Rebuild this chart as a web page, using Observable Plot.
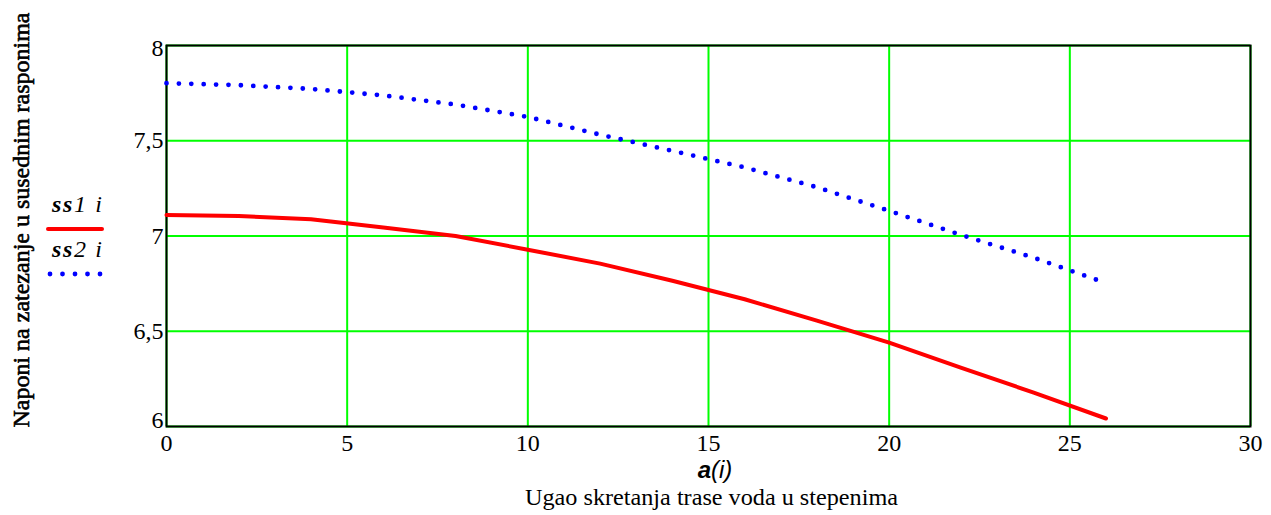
<!DOCTYPE html>
<html><head><meta charset="utf-8">
<script src="https://cdn.jsdelivr.net/npm/d3@7"></script>
<script src="https://cdn.jsdelivr.net/npm/@observablehq/plot@0.6"></script>
<style>
body{margin:0;background:#fff;}
#wrap{position:relative;width:1271px;height:515px;}
#chart,#overlay{position:absolute;left:0;top:0;}
#overlay{pointer-events:none;}
#chart text{font-family:"Liberation Serif","Times New Roman",serif;font-size:24px;}
#overlay text{font-family:"Liberation Serif","Times New Roman",serif;}
</style></head><body>
<div id="wrap"><div id="chart"></div>
<svg id="overlay" width="1271" height="515"></svg>
</div>
<script>
// angle a(i) in degrees
const angle = [0, 2, 4, 6, 8, 10, 12, 14, 16, 18, 20, 22, 24, 26];
// ss1 i  (red, solid)
const ss1 = [7.11, 7.105, 7.088, 7.045, 7.0, 6.928, 6.855, 6.765, 6.668, 6.556, 6.44, 6.308, 6.178, 6.042];
// ss2 i  (blue, dotted)
const ss2 = [7.802, 7.792, 7.772, 7.738, 7.69, 7.625, 7.532, 7.447, 7.36, 7.256, 7.132, 7.005, 6.886, 6.753];
const xTicks = [0, 5, 10, 15, 20, 25, 30];
const yTicks = [6, 6.5, 7, 7.5, 8];
const yTickLabels = ["6", "6,5", "7", "7,5", "8"];

const data = angle.map((a, i) => ({a, ss1: ss1[i], ss2: ss2[i]}));
const yLab = d => yTickLabels[yTicks.indexOf(d)];
const green = "#00ff00";

const chart = Plot.plot({
  width: 1271, height: 515,
  marginLeft: 166, marginRight: 21, marginTop: 45, marginBottom: 89,
  x: {domain: [0, 30], label: null},
  y: {domain: [6, 8], label: null},
  style: {fontFamily: "'Liberation Serif','Times New Roman',serif", fontSize: "24px", color: "black", background: "white"},
  marks: [
    Plot.gridX(xTicks, {stroke: green, strokeOpacity: 1, strokeWidth: 2}),
    Plot.gridY(yTicks, {stroke: green, strokeOpacity: 1, strokeWidth: 2}),
    Plot.frame({stroke: "black", strokeWidth: 2}),
    Plot.line(data, {x: "a", y: "ss1", stroke: "#ff0000", strokeWidth: 4}),
    Plot.line(data, {x: "a", y: "ss2", stroke: "#0000ff", strokeWidth: 4.8, strokeDasharray: "0 12.4", strokeLinecap: "round"}),
    Plot.axisX(xTicks, {tickSize: 0, tickPadding: 7, label: null, tickFormat: d => String(d)}),
    Plot.axisY([6.5, 7, 7.5], {tickSize: 0, tickPadding: 3, label: null, tickFormat: yLab}),
    Plot.axisY([8], {tickSize: 0, tickPadding: 3, label: null, tickFormat: yLab, dy: 3}),
    Plot.axisY([6], {tickSize: 0, tickPadding: 3, label: null, tickFormat: yLab, dy: -6})
  ]
});
document.getElementById("chart").append(chart);
d3.select(chart).selectAll("g[aria-label*='tick label']").attr("font-size", 24).style("font-size", "24px");

const ov = d3.select("#overlay");
// y axis title
ov.append("text")
  .attr("transform", "translate(29,220) rotate(-90)")
  .attr("text-anchor", "middle").attr("font-size", 24)
  .attr("stroke", "black").attr("stroke-width", 0.6)
  .attr("textLength", 415).attr("lengthAdjust", "spacingAndGlyphs")
  .text("Naponi na zatezanje u susednim rasponima");
// x variable label a(i)
const ax = ov.append("text").attr("x", 715).attr("y", 478).attr("text-anchor", "middle")
  .style("font-family", "'Liberation Sans',Arial,sans-serif").attr("font-size", 24).attr("font-style", "italic");
ax.append("tspan").attr("font-weight", "bold").text("a");
ax.append("tspan").text("(i)");
// x title
ov.append("text").attr("x", 711.5).attr("y", 505).attr("text-anchor", "middle")
  .attr("font-size", 24).attr("textLength", 373).attr("lengthAdjust", "spacingAndGlyphs")
  .text("Ugao skretanja trase voda u stepenima");
// legend
const leg = [
  {name: "1", y: 212, ly: 229, color: "#ff0000", dash: null},
  {name: "2", y: 257, ly: 274, color: "#0000ff", dash: "0 12.5"}
];
leg.forEach(l => {
  const t = ov.append("text").attr("x", 52).attr("y", l.y).attr("font-size", 24).attr("font-style", "italic")
    .attr("textLength", 50).attr("lengthAdjust", "spacing");
  t.append("tspan").attr("font-weight", "bold").text("ss");
  t.append("tspan").text(l.name + " i");
  const ln = ov.append("line").attr("x1", l.dash ? 50 : 48).attr("x2", 102).attr("y1", l.ly).attr("y2", l.ly)
    .attr("stroke", l.color).attr("stroke-width", l.dash ? 4.8 : 4).attr("stroke-linecap", "round");
  if (l.dash) ln.attr("stroke-dasharray", l.dash);
});
</script>
</body></html>
